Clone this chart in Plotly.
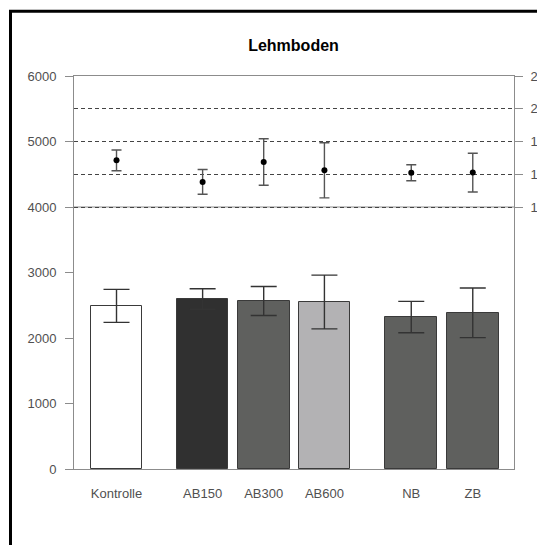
import plotly.graph_objects as go

categories = ["Kontrolle", "AB150", "AB300", "AB600", "NB", "ZB"]
bar_values = [2490, 2595, 2565, 2550, 2320, 2385]
bar_errors = [252, 157, 221, 410, 239, 379]
point_values = [4712, 4383, 4686, 4560, 4522, 4525]
point_errors = [158, 189, 355, 421, 122, 295]
right_tick_values = [4000, 4500, 5000, 5500, 6000]
right_tick_labels = ["1", "1", "1", "2", "2"]

# layout constants (category slot positions on the x axis)
x_pos = [0, 1.414, 2.417, 3.414, 4.84, 5.85]
bar_colors = ["#ffffff", "#303030", "#5f605e", "#b3b2b4", "#5f605e", "#5f605e"]

FONT = "Liberation Sans, Arial, sans-serif"
AX = "#8c8c8c"
TXT = "#505050"

fig = go.Figure()
fig.add_trace(go.Bar(
    x=x_pos, y=bar_values, width=0.849,
    marker=dict(color=bar_colors, line=dict(color="#3a3a3a", width=1)),
    error_y=dict(type="data", array=bar_errors, color="#333333", thickness=1.4, width=13),
    showlegend=False, hoverinfo="y",
))
fig.add_trace(go.Scatter(
    x=x_pos, y=point_values, mode="markers", yaxis="y2",
    marker=dict(color="#000000", size=6),
    error_y=dict(type="data", array=point_errors, color="#555555", thickness=1.4, width=5),
    showlegend=False,
))

fig.add_shape(type="line", xref="paper", yref="y", x0=0, x1=1, y0=4000, y1=4000,
              line=dict(color=AX, width=1), layer="below")
# outer chart frame
fig.add_shape(type="rect", xref="paper", yref="paper",
              x0=(10.5 - 74) / 440, x1=1.3, y0=-0.4, y1=1 + (75.7 - 11) / 393,
              line=dict(color="#000000", width=3), fillcolor="rgba(0,0,0,0)")

fig.update_layout(
    width=537, height=545,
    margin=dict(l=74, r=23, t=76, b=76),
    paper_bgcolor="white", plot_bgcolor="white",
    font=dict(family=FONT, size=13, color=TXT),
    title=dict(text="<b>Lehmboden</b>", x=293.5 / 537, xanchor="center",
               y=1 - 45 / 545, yanchor="middle",
               font=dict(family=FONT, size=16, color="#000000")),
    xaxis=dict(range=[-0.698, 6.527], tickvals=x_pos, ticktext=categories,
               showgrid=False, zeroline=False, showline=True, linecolor=AX, linewidth=1,
               mirror=True, ticks="outside", ticklen=12, tickcolor="rgba(0,0,0,0)",
               automargin=False),
    yaxis=dict(range=[0, 6000], dtick=1000, showgrid=False, zeroline=False,
               showline=True, linecolor=AX, linewidth=1, mirror=True,
               ticks="outside", ticklen=8, tickcolor=AX, ticklabelstandoff=6,
               automargin=False),
    yaxis2=dict(range=[0, 6000], overlaying="y", side="right",
                tickvals=right_tick_values, ticktext=right_tick_labels,
                tickfont=dict(color=TXT),
                showgrid=True, gridcolor="#444444", griddash="4px,3px", gridwidth=1,
                zeroline=False, showline=False,
                ticks="outside", ticklen=8, tickcolor=AX, ticklabelstandoff=5,
                automargin=False),
    bargap=0,
)

fig.write_html("out.html", config={"displayModeBar": False})

# remove the default page margin so the figure sits at the window origin
with open("out.html", encoding="utf-8") as f:
    html = f.read()
html = html.replace("<head>", "<head><style>html,body{margin:0;padding:0;overflow:hidden;}</style>", 1)
with open("out.html", "w", encoding="utf-8") as f:
    f.write(html)
